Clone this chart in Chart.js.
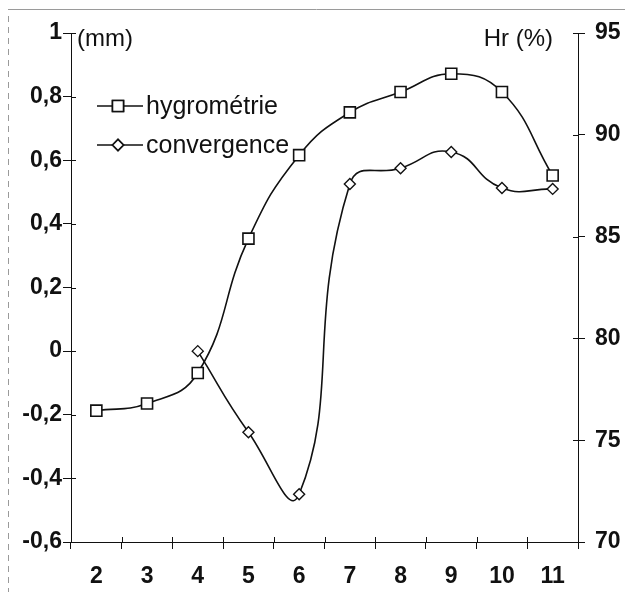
<!DOCTYPE html>
<html>
<head>
<meta charset="utf-8">
<script src="https://cdn.jsdelivr.net/npm/chart.js@4"></script>
<style>
  html, body { margin: 0; padding: 0; background: #fff; }
  #wrap { width: 625px; height: 593px; position: relative; }
</style>
</head>
<body>
<div id="wrap"><canvas id="chart" width="625" height="593"></canvas></div>
<script>
// données
const categories = ["2", "3", "4", "5", "6", "7", "8", "9", "10", "11"];
const hygrometrie = [76.45, 76.8, 78.3, 84.9, 89.0, 91.1, 92.1, 93.0, 92.1, 88.0];   // Hr (%) - axe droit
const convergence = [null, null, 0, -0.255, -0.45, 0.525, 0.575, 0.626, 0.513, 0.51]; // mm - axe gauche
const seriesNames = ["hygrométrie", "convergence"];
const leftTitle = "(mm)";
const rightTitle = "Hr (%)";

const INK = "#111";
const fmt = v => String(Number(v.toFixed(1))).replace(".", ",");

// --------------------------
// petits traits de graduation vers l'intérieur + légende + titres
// --------------------------
const extras = {
  id: "extras",
  afterDraw(chart) {
    const ctx = chart.ctx;
    const a = chart.chartArea;
    ctx.save();

    // bord scanné (haut + gauche pointillé)
    ctx.strokeStyle = "#9a9a9a";
    ctx.lineWidth = 1;
    ctx.beginPath(); ctx.moveTo(8, 9.5); ctx.lineTo(625, 9.5); ctx.stroke();
    ctx.setLineDash([6, 5]);
    ctx.beginPath(); ctx.moveTo(8.5, 16); ctx.lineTo(8.5, 592); ctx.stroke();
    ctx.setLineDash([]);

    ctx.strokeStyle = INK;
    ctx.lineWidth = 1;
    const yl = chart.scales.y, yr = chart.scales.y1;
    yl.ticks.forEach((t, i) => {
      const p = Math.round(yl.getPixelForTick(i)) + 0.5;
      ctx.beginPath(); ctx.moveTo(a.left, p); ctx.lineTo(a.left + 5, p); ctx.stroke();
    });
    yr.ticks.forEach((t, i) => {
      const p = Math.round(yr.getPixelForTick(i)) + 0.5;
      ctx.beginPath(); ctx.moveTo(a.right - 5, p); ctx.lineTo(a.right, p); ctx.stroke();
    });
    const n = categories.length;
    for (let k = 0; k <= n; k++) {
      const p = Math.round(a.left + k * (a.right - a.left) / n) + 0.5;
      ctx.beginPath(); ctx.moveTo(p, a.bottom - 5); ctx.lineTo(p, a.bottom); ctx.stroke();
    }

    // titres des axes
    ctx.fillStyle = INK;
    ctx.font = "24px 'Liberation Sans', Arial, sans-serif";
    ctx.textBaseline = "middle";
    ctx.textAlign = "left";
    ctx.fillText(leftTitle, a.left + 6, 39);
    ctx.textAlign = "right";
    ctx.fillText(rightTitle, a.right - 25, 39);

    // légende dans la zone de tracé
    ctx.font = "25px 'Liberation Sans', Arial, sans-serif";
    ctx.textAlign = "left";
    const rows = [106, 145];
    chart.data.datasets.forEach((ds, i) => {
      const yy = rows[i];
      ctx.strokeStyle = INK;
      ctx.lineWidth = 1.6;
      ctx.beginPath(); ctx.moveTo(97, yy); ctx.lineTo(143, yy); ctx.stroke();
      Chart.helpers.drawPoint(ctx, {
        pointStyle: ds.pointStyle, radius: ds.pointRadius, borderWidth: 1.6
      }, 118, yy);
      ctx.fillStyle = "#fff";
      ctx.fill();
      ctx.stroke();
      ctx.fillStyle = INK;
      ctx.fillText(ds.label, 146, yy + 1);
    });
    ctx.restore();
  }
};

const boldTicks = { family: "'Liberation Sans', Arial, sans-serif", size: 23, weight: "bold" };

new Chart(document.getElementById("chart"), {
  type: "line",
  data: {
    labels: categories,
    datasets: [
      {
        label: seriesNames[0],
        data: hygrometrie,
        yAxisID: "y1",
        borderColor: INK,
        borderWidth: 1.6,
        backgroundColor: "#fff",
        pointStyle: "rect",
        pointRadius: 7.8,
        pointBorderWidth: 1.6,
        pointBackgroundColor: "#fff",
        pointBorderColor: INK,
        tension: 0.45
      },
      {
        label: seriesNames[1],
        data: convergence,
        yAxisID: "y",
        borderColor: INK,
        borderWidth: 1.6,
        backgroundColor: "#fff",
        pointStyle: "rectRot",
        pointRadius: 5.5,
        pointBorderWidth: 1.4,
        pointBackgroundColor: "#fff",
        pointBorderColor: INK,
        tension: 0.5,
        spanGaps: false
      }
    ]
  },
  options: {
    responsive: false,
    animation: false,
    devicePixelRatio: 1,
    layout: { padding: { top: 33, right: 0, left: 0, bottom: 0 } },
    plugins: { legend: { display: false }, tooltip: { enabled: false } },
    scales: {
      x: {
        offset: true,
        grid: { offset: true, drawOnChartArea: false, color: INK, tickLength: 7, lineWidth: 1 },
        border: { display: true, color: INK, width: 1 },
        ticks: { color: INK, font: boldTicks, padding: 14, maxRotation: 0 },
        afterFit(s) { s.height = 51; }
      },
      y: {
        position: "left",
        min: -0.6, max: 1,
        grid: { drawOnChartArea: false, color: INK, tickLength: 8, lineWidth: 1 },
        border: { display: true, color: INK, width: 1 },
        ticks: { stepSize: 0.2, color: INK, font: boldTicks, padding: 1, callback: v => fmt(v) },
        afterFit(s) { s.width = 71; }
      },
      y1: {
        position: "right",
        min: 70, max: 95,
        grid: { drawOnChartArea: false, color: INK, tickLength: 7, lineWidth: 1 },
        border: { display: true, color: INK, width: 1 },
        ticks: { stepSize: 5, color: INK, font: boldTicks, padding: 10 },
        afterFit(s) { s.width = 47; }
      }
    }
  },
  plugins: [extras]
});
</script>
</body>
</html>
